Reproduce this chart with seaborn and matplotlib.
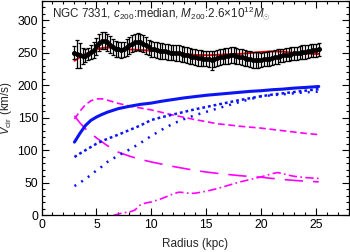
import matplotlib
matplotlib.use('Agg')
import matplotlib.pyplot as plt
from matplotlib.ticker import MultipleLocator
import seaborn as sns

# observed rotation curve (kpc, km/s)
obs_r = [3.0, 3.25, 3.5, 3.75, 4.0, 4.25, 4.5, 4.75, 5.0, 5.25, 5.5, 5.75, 6.0, 6.25, 6.5, 6.75,
         7.0, 7.25, 7.5, 7.75, 8.0, 8.25, 8.5, 8.75, 9.0, 9.25, 9.5, 9.75, 10.0, 10.25, 10.5, 10.75,
         11.0, 11.25, 11.5, 11.75, 12.0, 12.25, 12.5, 12.75, 13.0, 13.25, 13.5, 13.75, 14.0, 14.25,
         14.5, 14.75, 15.0, 15.25, 15.5, 15.75, 16.0, 16.25, 16.5, 16.75, 17.0, 17.25, 17.5, 17.75,
         18.0, 18.25, 18.5, 18.75, 19.0, 19.25, 19.5, 19.75, 20.0, 20.25, 20.5, 20.75, 21.0, 21.25,
         21.5, 21.75, 22.0, 22.25, 22.5, 22.75, 23.0, 23.25, 23.5, 23.75, 24.0, 24.25, 24.5, 24.75,
         25.0, 25.25]
obs_v = [250, 248, 246, 245, 245, 248, 251, 254, 260, 265, 268, 268, 266, 262, 259, 256,
         255, 254, 255, 258, 261, 264, 266, 267, 266, 264, 261, 258, 256, 255, 254, 253,
         253, 252, 251, 250, 250, 249, 249, 248, 247, 246, 245, 244, 243, 242,
         242, 241, 241, 240, 238, 240, 242, 243, 244, 245, 245, 246, 246, 245,
         244, 243, 242, 241, 240, 239, 239, 239, 239, 240, 240, 241, 242, 243,
         244, 245, 246, 247, 247, 248, 249, 249, 250, 251, 251, 252, 253, 254,
         254, 255]
obs_err = [10, 21, 19, 12, 10, 9, 11, 12, 13, 13, 13, 13, 13, 13, 12, 12,
           12, 12, 12, 13, 13, 13, 13, 13, 13, 13, 13, 12, 12, 12, 12, 12,
           12, 12, 12, 12, 12, 12, 12, 12, 12, 12, 12, 12, 12, 12,
           12, 12, 12, 12, 14, 12, 12, 12, 12, 12, 12, 12, 12, 12,
           12, 12, 12, 12, 12, 12, 12, 12, 11, 11, 11, 11, 11, 11,
           11, 10, 10, 10, 10, 10, 10, 10, 10, 10, 10, 10, 10, 10,
           10, 10]

# model components
mod_r = [3, 3.5, 4, 4.5, 5, 5.5, 6, 7, 8, 9, 10, 11, 12, 13, 14, 15, 16, 17, 18, 19, 20,
         21, 22, 23, 24, 25.25]
v_total = [237.5, 243, 248, 251, 255, 257, 258, 256, 255, 254, 253, 251, 250, 248, 246.5, 246,
           246.5, 247.5, 248, 249.5, 251, 252, 251.5, 249.5, 248.5, 248]
v_baryon = [112.5, 126, 138, 146, 151, 155, 158.5, 164, 167.5, 170.5, 172.5, 175.5, 178, 180.5,
            182.5, 184.5, 186, 187.5, 189, 190.5, 191.5, 193, 194, 195.5, 196.5, 198]
v_disk = [89.6, 95, 100, 105, 110, 114, 117.5, 124, 131, 138, 146.5, 151, 155, 159, 163, 166.5,
          170, 173.5, 177, 180, 183, 185.5, 187.5, 189.5, 191.5, 194]
v_gas = [45, 50, 56, 62, 69, 75, 82, 92, 101, 111, 122, 132, 141, 148, 154, 159, 164, 169,
         174, 178.5, 183, 184.5, 186, 187.5, 189, 190]
v_halo = [148, 160, 170, 176, 179, 179, 177, 172, 168, 165, 162, 158, 154, 150.5, 147, 144,
          140.7, 139, 137, 135.5, 134, 132, 130, 128, 126, 124]
v_bulge = [153, 142, 133, 126, 119, 113, 107, 97, 91, 86, 82, 78.5, 75, 72, 69, 66.5, 64.5,
           62.7, 61, 59.7, 58.5, 56.7, 55, 53.7, 52.5, 51.4]
hot_r = [6.55, 7, 7.5, 8, 8.5, 9, 9.5, 10, 11, 12, 12.5, 13, 13.5, 14, 15, 16, 17, 18, 19, 20,
         21, 21.5, 22, 22.5, 23, 24, 25.25]
v_hot = [0, 2, 4, 5, 8, 16, 19, 20.5, 26, 33, 35.5, 35, 33.6, 34, 37, 41, 46, 51, 55, 59, 64,
         65.7, 64, 61.6, 60, 58, 56.6]

sns.set_theme(style='ticks')
plt.rcParams['font.family'] = ['Liberation Sans', 'DejaVu Sans']
plt.rcParams['mathtext.fontset'] = 'custom'
plt.rcParams['mathtext.rm'] = 'Liberation Sans'
plt.rcParams['mathtext.it'] = 'Liberation Sans:italic'

fig = plt.figure(figsize=(3.5, 2.52), dpi=100)
ax = fig.add_axes([0.1186, 0.1456, 0.8784, 0.852])

mag = '#ff00ff'
blue = '#0a14f5'
sns.lineplot(x=hot_r, y=v_hot, color=mag, lw=1.2, linestyle=(0, (5, 2, 1, 2)), ax=ax, sort=False)
sns.lineplot(x=mod_r, y=v_bulge, color=mag, lw=1.2, linestyle=(0, (11, 6)), ax=ax, sort=False)
sns.lineplot(x=mod_r, y=v_halo, color=mag, lw=1.2, linestyle=(0, (4, 2.2)), ax=ax, sort=False)
sns.lineplot(x=mod_r, y=v_gas, color=blue, lw=1.8, linestyle=(0, (0.8, 2.4)), ax=ax, sort=False)
sns.lineplot(x=mod_r, y=v_disk, color=blue, lw=1.8, linestyle=(0, (1.1, 1.2)), ax=ax, sort=False)
sns.lineplot(x=mod_r, y=v_baryon, color=blue, lw=2.2, ax=ax, sort=False)
sns.lineplot(x=mod_r, y=v_total, color='red', lw=1.4, ax=ax, sort=False)
ax.errorbar(obs_r, obs_v, yerr=obs_err, fmt='o', color='black', ms=2.6,
            elinewidth=0.9, capsize=1.4, capthick=0.9, zorder=3)

ax.set_xlim(0, 28)
ax.set_ylim(0, 330)
ax.xaxis.set_major_locator(MultipleLocator(5))
ax.xaxis.set_minor_locator(MultipleLocator(1))
ax.yaxis.set_major_locator(MultipleLocator(50))
ax.yaxis.set_minor_locator(MultipleLocator(10))
ax.tick_params(which='both', direction='in', top=True, right=True, colors='black',
               labelsize=8.8, width=0.8, pad=2.5)
ax.tick_params(which='major', length=5)
ax.tick_params(which='minor', length=2.5)
for s in ax.spines.values():
    s.set_color('black')
    s.set_linewidth(0.9)

ax.set_xlabel('Radius (kpc)', fontsize=8.5, labelpad=5)
ax.set_ylabel(r'$V_{\rm cir}$ (km/s)', fontsize=8.5)
ax.yaxis.set_label_coords(-0.088, 0.5)
ax.text(0.034, 0.94, r'NGC 7331, $c_{200}$:median, $M_{200}$:2.6×10$^{12}$$M_{\odot}$',
        transform=ax.transAxes, fontsize=8.4, va='center', ha='left')

fig.savefig('out.png', dpi=100)
